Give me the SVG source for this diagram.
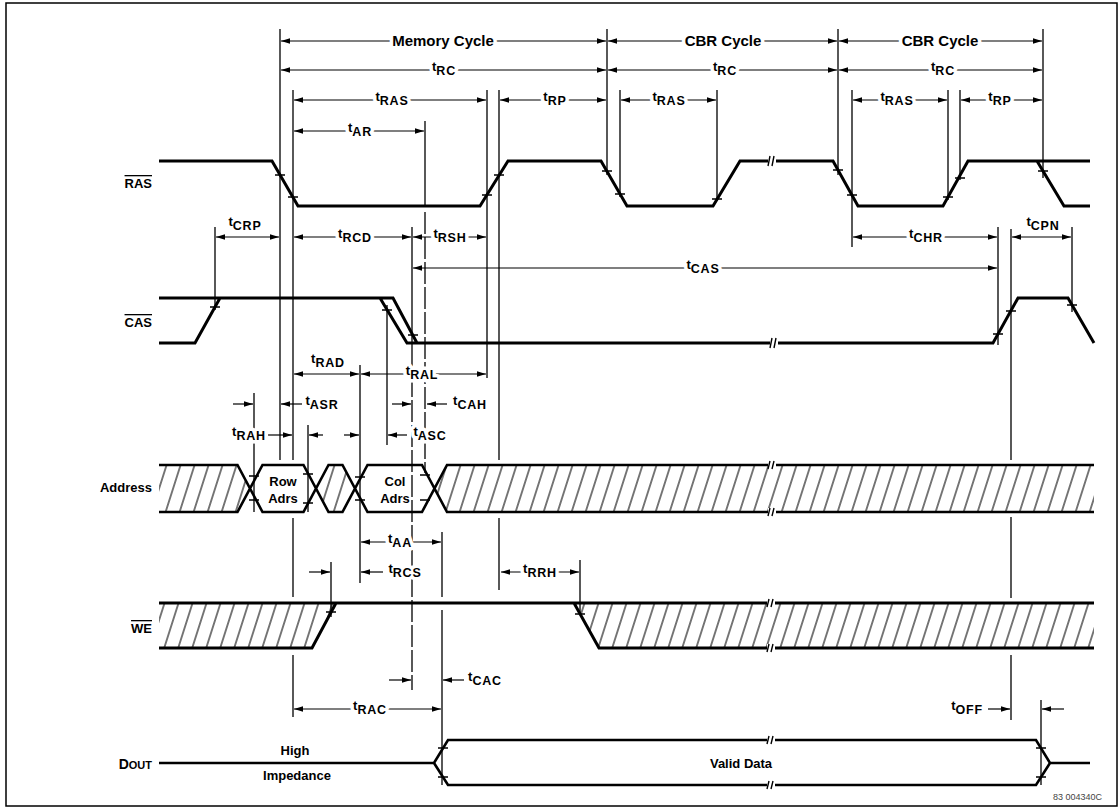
<svg xmlns="http://www.w3.org/2000/svg" width="1120" height="808" viewBox="0 0 1120 808">
<style>
.sig{fill:none;stroke:#000;stroke-width:3;stroke-linejoin:miter}
.bus{fill:none;stroke:#000;stroke-width:2.6}
.v{fill:none;stroke:#000;stroke-width:1.3}
.vd{fill:none;stroke:#000;stroke-width:1.3;stroke-dasharray:22 3}
.tk{fill:none;stroke:#000;stroke-width:1.6}
.d2{stroke:#000;stroke-width:1.2;marker-start:url(#ah);marker-end:url(#ah)}
.d1{stroke:#000;stroke-width:1.2;marker-end:url(#ah)}
.lb{font-family:"Liberation Sans",Arial,sans-serif;font-weight:bold;font-size:13px;text-anchor:middle}
.s{font-size:12.5px;letter-spacing:0.8px}
.big{font-family:"Liberation Sans",Arial,sans-serif;font-weight:bold;font-size:15px;text-anchor:middle}
.halo{fill:#fff;stroke:#fff;stroke-width:7;stroke-linejoin:round}
.ink{fill:#000;stroke:none}
.nm{font-family:"Liberation Sans",Arial,sans-serif;font-weight:bold;font-size:13px;fill:#000;text-anchor:end}
.ov{text-decoration:overline}
.txt{font-family:"Liberation Sans",Arial,sans-serif;font-weight:bold;font-size:13px;fill:#000;text-anchor:middle}
.brk{fill:none;stroke:#000;stroke-width:1.4}
</style>
<defs>
<marker id="ah" viewBox="0 0 9 6" refX="9" refY="3" markerWidth="9" markerHeight="6" markerUnits="userSpaceOnUse" orient="auto-start-reverse"><path d="M0,0.3 L9,3 L0,5.7 z" fill="#000"/></marker>
<pattern id="hatch" patternUnits="userSpaceOnUse" width="14" height="10" patternTransform="skewX(-17.7)"><line x1="7" y1="-1" x2="7" y2="11" stroke="#000" stroke-width="1.1"/></pattern>
<text id="L1" class="big" x="443" y="46">Memory Cycle</text>
<text id="L2" class="big" x="723" y="46">CBR Cycle</text>
<text id="L3" class="big" x="940" y="46">CBR Cycle</text>
<text id="L4" class="lb" x="444" y="71">t<tspan class="s" dy="3.5">RC</tspan></text>
<text id="L5" class="lb" x="725" y="71">t<tspan class="s" dy="3.5">RC</tspan></text>
<text id="L6" class="lb" x="943" y="71">t<tspan class="s" dy="3.5">RC</tspan></text>
<text id="L7" class="lb" x="392" y="101">t<tspan class="s" dy="3.5">RAS</tspan></text>
<text id="L8" class="lb" x="555" y="101">t<tspan class="s" dy="3.5">RP</tspan></text>
<text id="L9" class="lb" x="669" y="101">t<tspan class="s" dy="3.5">RAS</tspan></text>
<text id="L10" class="lb" x="897" y="101">t<tspan class="s" dy="3.5">RAS</tspan></text>
<text id="L11" class="lb" x="1000" y="101">t<tspan class="s" dy="3.5">RP</tspan></text>
<text id="L12" class="lb" x="360" y="132">t<tspan class="s" dy="3.5">AR</tspan></text>
<text id="L13" class="lb" x="355" y="238">t<tspan class="s" dy="3.5">RCD</tspan></text>
<text id="L14" class="lb" x="450" y="238">t<tspan class="s" dy="3.5">RSH</tspan></text>
<text id="L15" class="lb" x="926" y="238">t<tspan class="s" dy="3.5">CHR</tspan></text>
<text id="L16" class="lb" x="703" y="269">t<tspan class="s" dy="3.5">CAS</tspan></text>
<text id="L17" class="lb" x="422" y="375">t<tspan class="s" dy="3.5">RAL</tspan></text>
<text id="L18" class="lb" x="322" y="405">t<tspan class="s" dy="3.5">ASR</tspan></text>
<text id="L19" class="lb" x="470" y="405">t<tspan class="s" dy="3.5">CAH</tspan></text>
<text id="L20" class="lb" x="249" y="436">t<tspan class="s" dy="3.5">RAH</tspan></text>
<text id="L21" class="lb" x="430" y="436">t<tspan class="s" dy="3.5">ASC</tspan></text>
<text id="L22" class="lb" x="400" y="543">t<tspan class="s" dy="3.5">AA</tspan></text>
<text id="L23" class="lb" x="405" y="573">t<tspan class="s" dy="3.5">RCS</tspan></text>
<text id="L24" class="lb" x="540" y="573">t<tspan class="s" dy="3.5">RRH</tspan></text>
<text id="L25" class="lb" x="485" y="681">t<tspan class="s" dy="3.5">CAC</tspan></text>
<text id="L26" class="lb" x="370" y="710">t<tspan class="s" dy="3.5">RAC</tspan></text>
<text id="L27" class="lb" x="967" y="710">t<tspan class="s" dy="3.5">OFF</tspan></text>
</defs>
<rect id="frame" x="6" y="3" width="1111" height="803" fill="#fff" stroke="#000" stroke-width="1.5"/>

<g id="signal-names">
<text class="nm ov" x="152" y="188">RAS</text>
<text class="nm ov" x="152" y="327">CAS</text>
<text class="nm" x="152" y="492">Address</text>
<text class="nm ov" x="152" y="633">WE</text>
<text class="nm" x="152" y="769"><tspan font-size="14">D</tspan><tspan font-size="11">OUT</tspan></text>
</g>

<g id="connectors">
<path class="v" d="M215,227V310 M254,393V512 M280,29V460 M293,90V460 M293,518V597 M293,655V717 M308,425V512 M331,562V617 M360,365V583 M387,305V445 M412,227V350 M425,121V206 M442,532V597 M442,610V785 M487,90V378 M499,90V460 M499,518V590 M580,560V615 M607,29V175 M620,90V197 M717,90V201 M838,29V175 M852,90V247 M948,90V200 M960,90V180 M998,227V345 M1011,229V460 M1011,517V598 M1011,655V720 M1043,29V178 M1072,227V312 M1041,700V785"/>
<path class="vd" d="M412,350V690 M425,212V473"/>
<line class="d2" x1="281" y1="41" x2="606" y2="41"/>
<line class="d2" x1="608" y1="41" x2="837" y2="41"/>
<line class="d2" x1="839" y1="41" x2="1042" y2="41"/>
<line class="d2" x1="281" y1="70" x2="606" y2="70"/>
<line class="d2" x1="608" y1="70" x2="837" y2="70"/>
<line class="d2" x1="839" y1="70" x2="1042" y2="70"/>
<line class="d2" x1="294" y1="100" x2="486" y2="100"/>
<line class="d2" x1="500" y1="100" x2="606" y2="100"/>
<line class="d2" x1="621" y1="100" x2="716" y2="100"/>
<line class="d2" x1="853" y1="100" x2="947" y2="100"/>
<line class="d2" x1="961" y1="100" x2="1042" y2="100"/>
<line class="d2" x1="294" y1="131" x2="424" y2="131"/>
<line class="d2" x1="216" y1="237" x2="279" y2="237"/>
<line class="d2" x1="294" y1="237" x2="411" y2="237"/>
<line class="d2" x1="413" y1="237" x2="486" y2="237"/>
<line class="d2" x1="853" y1="237" x2="997" y2="237"/>
<line class="d2" x1="1012" y1="237" x2="1071" y2="237"/>
<line class="d2" x1="413" y1="268" x2="997" y2="268"/>
<line class="d2" x1="294" y1="374" x2="359" y2="374"/>
<line class="d2" x1="361" y1="374" x2="486" y2="374"/>
<line class="d1" x1="233" y1="404" x2="253" y2="404"/>
<line class="d1" x1="302" y1="404" x2="281" y2="404"/>
<line class="d1" x1="392" y1="404" x2="411" y2="404"/>
<line class="d1" x1="447" y1="404" x2="427" y2="404"/>
<line class="d1" x1="268" y1="435" x2="292" y2="435"/>
<line class="d1" x1="323" y1="435" x2="309" y2="435"/>
<line class="d1" x1="344" y1="435" x2="359" y2="435"/>
<line class="d1" x1="407" y1="435" x2="388" y2="435"/>
<line class="d2" x1="361" y1="542" x2="441" y2="542"/>
<line class="d1" x1="309" y1="572" x2="330" y2="572"/>
<line class="d1" x1="383" y1="572" x2="361" y2="572"/>
<line class="d2" x1="501" y1="572" x2="579" y2="572"/>
<line class="d1" x1="389" y1="680" x2="411" y2="680"/>
<line class="d1" x1="464" y1="680" x2="443" y2="680"/>
<line class="d2" x1="294" y1="709" x2="441" y2="709"/>
<line class="d1" x1="988" y1="709" x2="1010" y2="709"/>
<line class="d1" x1="1064" y1="709" x2="1042" y2="709"/>
</g>

<g id="sig-ras">
<path class="sig" d="M159,161 H272 L298,206 H480 L508,161 H601 L627,206 H713 L740,161 H833 L858,206 H943 L968,161 H1090 M1037,161 L1064,206 H1090"/>
</g>

<g id="sig-cas">
<path class="sig" d="M159,298 H393 L417,343 M159,343 H195 L220,298 M380,298 L407,343 H993 L1018,298 H1068 L1094,343"/>
</g>

<g id="sig-address">
<polygon points="159,465 237.5,465 250,488.5 237.5,512 159,512" fill="url(#hatch)"/>
<polygon points="316,488.5 328.5,465 342.5,465 355,488.5 342.5,512 328.5,512" fill="url(#hatch)"/>
<polygon points="434.5,488.5 447,465 1094,465 1094,512 447,512" fill="url(#hatch)"/>
<path class="bus" d="M159,465 H237.5 L262.5,512 H303.5 L328.5,465 H342.5 L367.5,512 H422 L447,465 H1094 M159,512 H237.5 L262.5,465 H303.5 L328.5,512 H342.5 L367.5,465 H422 L447,512 H1094"/>
<text class="txt" x="283" y="486">Row</text>
<text class="txt" x="283" y="503">Adrs</text>
<text class="txt" x="395" y="486">Col</text>
<text class="txt" x="395" y="503">Adrs</text>
</g>

<g id="sig-we">
<polygon points="159,603 336,603 312,648 159,648" fill="url(#hatch)"/>
<polygon points="574,603 1094,603 1094,648 599,648" fill="url(#hatch)"/>
<path class="sig" d="M159,603 H1094 M159,648 H312 L336,603 M574,603 L599,648 H1094"/>
</g>

<g id="sig-dout">
<path class="bus" d="M159,763 H434 L448,740 H1036 L1050,763 H1090 M434,763 L448,785 H1036 L1050,763"/>
<text class="txt" x="295" y="755">High</text>
<text class="txt" x="297" y="780">Impedance</text>
<text class="txt" x="741" y="768">Valid Data</text>
</g>

<g id="ticks">
<path class="tk" d="M275,175h10 M288,197h10 M482,195h10 M494,175h10 M602,171h10 M615,194h10 M712,199h10 M833,170h10 M847,195h10 M943,197h10 M955,178h10 M1038,171h10 M210,307h10 M382,310h10 M408,335h10 M993,334h10 M1006,311h10 M1067,305h10 M249,476h10 M249,500h10 M303,474h10 M303,503h10 M355,477h10 M355,500h10 M420,475h10 M420,500h10 M326,612h10 M575,614h10 M438,748h10 M438,777h10 M1036,748h10 M1036,777h10"/>
</g>

<g id="breaks">
<path fill="#fff" d="M768,156h8v10h-8z M770,338h8v10h-8z M768,461h8v8h-8z M768,508h8v8h-8z M767,599h8v8h-8z M767,644h8v8h-8z M767,736h8v8h-8z M767,781h8v8h-8z"/>
<path class="brk" d="M768,166 L770,156 M772,166 L774,156 M770,348 L772,338 M774,348 L776,338 M768,469 L770,461 M772,469 L774,461 M768,516 L770,508 M772,516 L774,508 M767,607 L769,599 M771,607 L773,599 M767,652 L769,644 M771,652 L773,644 M767,744 L769,736 M771,744 L773,736 M767,789 L769,781 M771,789 L773,781"/>
</g>

<g id="labels">
<g class="halo">
<use href="#L1"/><use href="#L2"/><use href="#L3"/><use href="#L4"/><use href="#L5"/><use href="#L6"/><use href="#L7"/><use href="#L8"/><use href="#L9"/><use href="#L10"/><use href="#L11"/><use href="#L12"/><use href="#L13"/><use href="#L14"/><use href="#L15"/><use href="#L16"/><use href="#L17"/><use href="#L18"/><use href="#L19"/><use href="#L20"/><use href="#L21"/><use href="#L22"/><use href="#L23"/><use href="#L24"/><use href="#L25"/><use href="#L26"/><use href="#L27"/>
</g>
<g class="ink">
<use href="#L1"/><use href="#L2"/><use href="#L3"/><use href="#L4"/><use href="#L5"/><use href="#L6"/><use href="#L7"/><use href="#L8"/><use href="#L9"/><use href="#L10"/><use href="#L11"/><use href="#L12"/><use href="#L13"/><use href="#L14"/><use href="#L15"/><use href="#L16"/><use href="#L17"/><use href="#L18"/><use href="#L19"/><use href="#L20"/><use href="#L21"/><use href="#L22"/><use href="#L23"/><use href="#L24"/><use href="#L25"/><use href="#L26"/><use href="#L27"/>
</g>
<text class="lb" x="245" y="226" fill="#000">t<tspan class="s" dy="3.5">CRP</tspan></text>
<text class="lb" x="1043" y="226" fill="#000">t<tspan class="s" dy="3.5">CPN</tspan></text>
<text class="lb" x="328" y="363" fill="#000">t<tspan class="s" dy="3.5">RAD</tspan></text>
<text x="1053" y="800" font-family="Liberation Sans, Arial, sans-serif" font-size="9" fill="#444">83 004340C</text>
</g>
</svg>
